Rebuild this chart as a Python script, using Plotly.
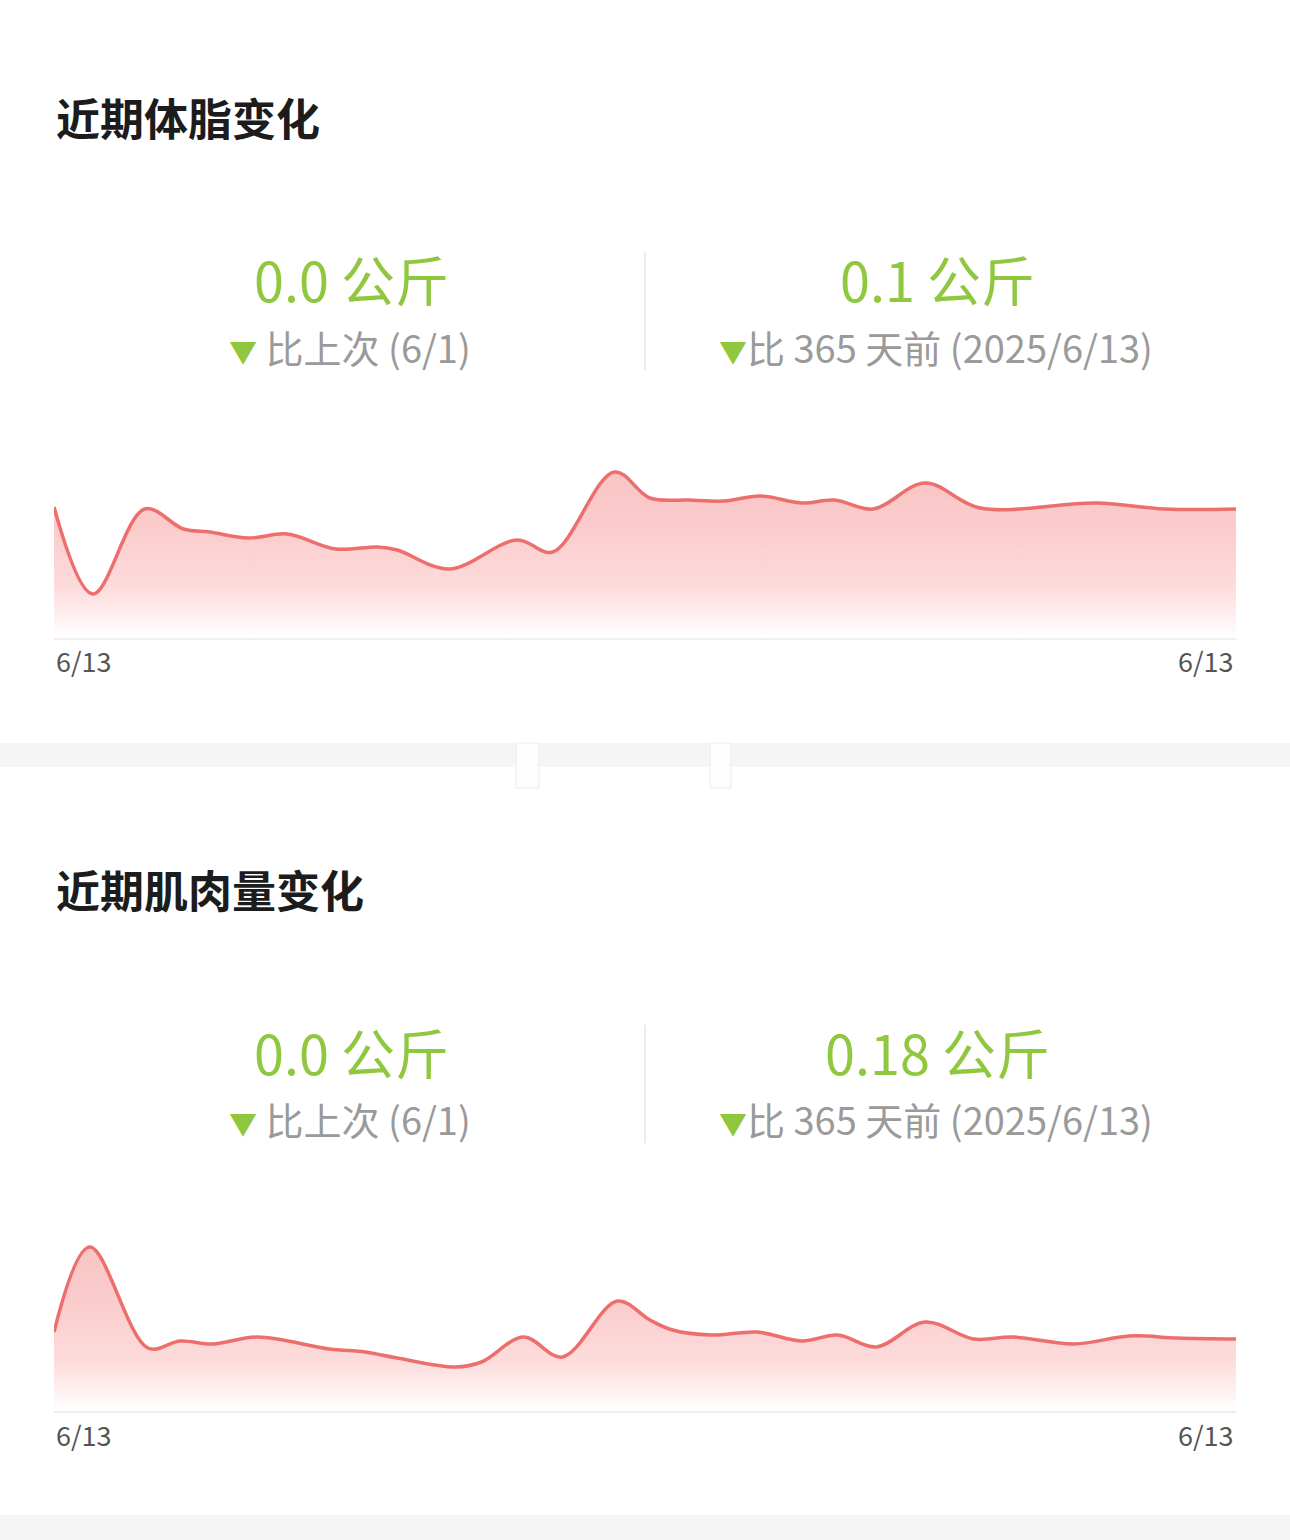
import plotly.graph_objects as go

W, H = 1290, 1540

# ---------------- data ----------------
# x: days since 2025-06-13, y: relative level (no visible y scale)
fat_days = [0, 12, 28, 40, 48, 60, 72, 87, 100, 106, 122, 143, 154, 173, 184,
            196, 207, 218, 231, 241, 253, 269, 286, 322, 343, 365]
fat_values = [131, 44, 129, 109, 106, 100, 104, 89, 91, 88, 69, 98, 86, 166, 140,
              138, 137, 142, 135, 138, 129, 155, 130, 135, 129, 129]

muscle_days = [0, 11, 29, 39, 49, 63, 85, 96, 106, 124, 132, 145, 157, 174, 184,
               191, 203, 217, 231, 242, 254, 269, 284, 296, 315, 332, 347, 365]
muscle_values = [79, 164, 63, 70, 67, 74, 62, 59, 53, 44, 49, 74, 54, 110, 91,
                 81, 76, 79, 70, 76, 64, 89, 72, 74, 67, 75, 73, 72]

tick_labels = ["6/13", "6/13"]
titles = ["近期体脂变化", "近期肌肉量变化"]
last_change = ["0.0 公斤", "0.0 公斤"]
year_change = ["0.1 公斤", "0.18 公斤"]
last_label = "比上次 (6/1)"
year_label = "比 365 天前 (2025/6/13)"

# ---------------- styling ----------------
GREEN = "#8fc73e"
GRAY_TXT = "#9a9a9a"
LINE = "#ec6f6d"
FONT = "Noto Sans CJK SC"


def px(x):
    return x / W


def py(y):
    return 1 - y / H


fig = go.Figure()

for i, (d, v) in enumerate([(fat_days, fat_values), (muscle_days, muscle_values)]):
    suffix = "" if i == 0 else "2"
    fig.add_trace(go.Scatter(
        x=d, y=v, mode="lines",
        line=dict(color=LINE, width=3.5, shape="spline", smoothing=1.0),
        fill="tozeroy",
        fillgradient=dict(
            type="vertical", start=0, stop=max(v),
            colorscale=[[0, "rgba(255,255,255,1)"], [0.3, "rgba(253,220,220,1)"],
                        [0.65, "rgba(251,204,204,1)"], [1, "rgba(250,196,196,1)"]],
        ),
        xaxis="x" + suffix, yaxis="y" + suffix,
        hoverinfo="skip", showlegend=False,
    ))

axis_common = dict(range=[0, 365], showgrid=False, zeroline=False, showticklabels=False,
                   ticks="", showline=True, linecolor="#eeeeee", linewidth=2, fixedrange=True)
yaxis_common = dict(range=[0, 200], visible=False, fixedrange=True)

shapes = []
# gray separator bands
shapes.append(dict(type="rect", xref="paper", yref="paper", x0=0, x1=1,
                   y0=py(767), y1=py(743), fillcolor="#f5f5f5", line_width=0, layer="below"))
shapes.append(dict(type="rect", xref="paper", yref="paper", x0=0, x1=1,
                   y0=py(1540), y1=py(1515), fillcolor="#f5f5f5", line_width=0, layer="below"))
# faint artifacts in the band
for x0, x1 in [(516, 539), (710, 731)]:
    shapes.append(dict(type="rect", xref="paper", yref="paper", x0=px(x0), x1=px(x1),
                       y0=py(788), y1=py(743), fillcolor="#fdfdfd",
                       line=dict(color="#ececec", width=1), layer="below"))

annotations = []
blocks = [(117, 278, 346, 252, 370, 661), (889, 1051, 1118, 1025, 1143, 1434)]
TRI = f"<span style='color:{GREEN};font-size:28px'>▼</span>"
for i, (ty, vy, sy, d0, d1, tky) in enumerate(blocks):
    annotations.append(dict(text=titles[i], x=px(54), y=py(ty), xref="paper", yref="paper",
                            xanchor="left", yanchor="middle", showarrow=False,
                            font=dict(family=FONT, size=44, color="#1c1c1c", weight="bold")))
    annotations.append(dict(text=last_change[i], x=px(351), y=py(vy), xref="paper", yref="paper",
                            xanchor="center", yanchor="middle", showarrow=False,
                            font=dict(family=FONT, size=54, color=GREEN)))
    annotations.append(dict(text=year_change[i], x=px(937), y=py(vy), xref="paper", yref="paper",
                            xanchor="center", yanchor="middle", showarrow=False,
                            font=dict(family=FONT, size=54, color=GREEN)))
    annotations.append(dict(text=f"{TRI} {last_label}",
                            x=px(350), y=py(sy), xref="paper", yref="paper",
                            xanchor="center", yanchor="middle", showarrow=False,
                            font=dict(family=FONT, size=38, color=GRAY_TXT)))
    annotations.append(dict(text=f"{TRI}{year_label}",
                            x=px(936), y=py(sy), xref="paper", yref="paper",
                            xanchor="center", yanchor="middle", showarrow=False,
                            font=dict(family=FONT, size=38, color=GRAY_TXT)))
    shapes.append(dict(type="line", xref="paper", yref="paper", x0=px(645), x1=px(645),
                       y0=py(d1), y1=py(d0), line=dict(color="#e6e6e6", width=1.5)))
    xa = "x" if i == 0 else "x2"
    annotations.append(dict(text=tick_labels[0], x=0, y=py(tky), xref=xa, yref="paper",
                            xanchor="left", yanchor="middle", showarrow=False,
                            font=dict(family=FONT, size=27, color="#555555")))
    annotations.append(dict(text=tick_labels[1], x=365, y=py(tky), xref=xa, yref="paper",
                            xanchor="right", yanchor="middle", showarrow=False,
                            font=dict(family=FONT, size=27, color="#555555")))

fig.update_layout(
    width=W, height=H,
    margin=dict(l=0, r=0, t=0, b=0),
    paper_bgcolor="white", plot_bgcolor="rgba(0,0,0,0)",
    xaxis=dict(domain=[px(54), px(1236)], anchor="y", **axis_common),
    yaxis=dict(domain=[py(638), py(438)], anchor="x", **yaxis_common),
    xaxis2=dict(domain=[px(54), px(1236)], anchor="y2", **axis_common),
    yaxis2=dict(domain=[py(1411), py(1211)], anchor="x2", **yaxis_common),
    shapes=shapes, annotations=annotations,
)

fig.write_html("out.html", config={"displayModeBar": False},
               post_script="document.body.style.margin='0';document.body.style.overflow='hidden';")
